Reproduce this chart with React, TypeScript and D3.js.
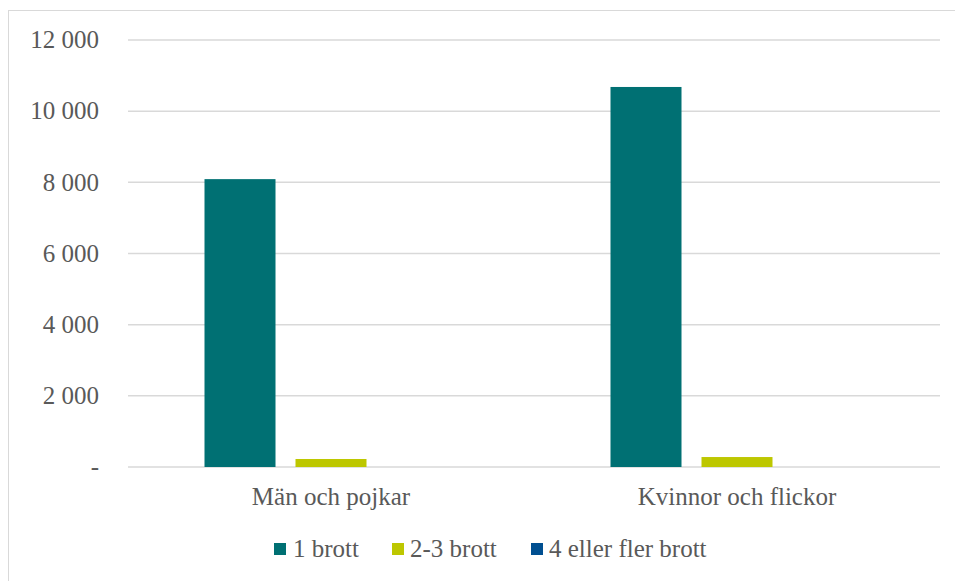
import React from "react";
import * as d3 from "d3";

const categories = ["Män och pojkar", "Kvinnor och flickor"];
const seriesNames = ["1 brott", "2-3 brott", "4 eller fler brott"];
const seriesColors = ["#007073", "#BDC700", "#004F91"];
const brott1 = [8090, 10680];
const brott2_3 = [225, 280];
const brott4plus = [0, 0];
const yTicks = [0, 2000, 4000, 6000, 8000, 10000, 12000];

const values = [brott1, brott2_3, brott4plus];

const W = 955;
const H = 581;
const left = 128;
const right = 940;
const top = 40;
const bottom = 467;
const font = '"Liberation Serif", "DejaVu Serif", serif';
const textColor = "#595959";

const fmt = (v: number) => (v === 0 ? "-" : d3.format(",")(v).replace(/,/g, " "));

export default function App() {
  const y = d3.scaleLinear().domain([0, 12000]).range([bottom, top]);
  const x0 = d3.scaleBand<string>().domain(categories).range([left, right]).paddingInner(0).paddingOuter(0);
  const bw = x0.bandwidth();
  const groupW = 253;
  const x1 = d3
    .scaleBand<string>()
    .domain(seriesNames)
    .range([(bw - groupW) / 2, (bw + groupW) / 2])
    .paddingInner(20 / 91)
    .paddingOuter(0);

  const legendItems = [
    { sx: 274, tx: 293 },
    { sx: 392, tx: 410 },
    { sx: 531, tx: 549 },
  ];

  const ts = { fontFamily: font, fontSize: "25px", fill: textColor } as React.CSSProperties;

  return (
    <svg
      width={W}
      height={H}
      style={{ position: "absolute", left: 0, top: 0, background: "#fff" }}
    >
      <rect x={8.5} y={10.5} width={960} height={600} fill="#fff" stroke="#d9d9d9" strokeWidth={1} />
      {yTicks.map((t) => (
        <g key={t}>
          <line x1={left} x2={right} y1={y(t)} y2={y(t)} stroke="#d9d9d9" strokeWidth={1.5} />
          <text x={99} y={y(t)} dy="0.33em" textAnchor="end" style={ts}>
            {fmt(t)}
          </text>
        </g>
      ))}
      {categories.map((c, ci) => (
        <g key={c} transform={`translate(${x0(c)},0)`}>
          {seriesNames.map((s, si) => {
            const v = values[si][ci];
            return (
              <rect
                key={s}
                x={x1(s)}
                y={y(v)}
                width={x1.bandwidth()}
                height={y(0) - y(v)}
                fill={seriesColors[si]}
              />
            );
          })}
          <text x={bw / 2} y={505} textAnchor="middle" style={ts}>
            {c}
          </text>
        </g>
      ))}
      {seriesNames.map((s, i) => (
        <g key={s}>
          <rect x={legendItems[i].sx} y={543} width={12} height={12} fill={seriesColors[i]} />
          <text x={legendItems[i].tx} y={557} style={ts}>
            {s}
          </text>
        </g>
      ))}
    </svg>
  );
}
